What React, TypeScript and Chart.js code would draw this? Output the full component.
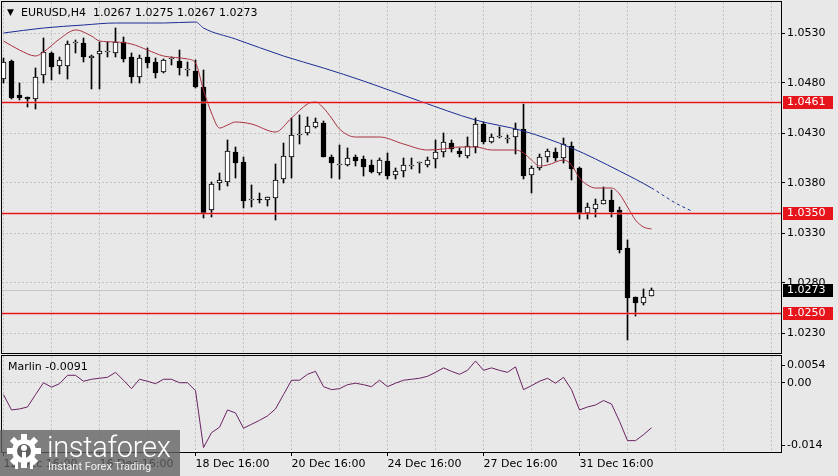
import React, { useEffect, useRef } from "react";
import { Chart, registerables } from "chart.js";

Chart.register(...registerables);

// ---------- DATA ----------
const opens = [
  1.0484, 1.0502, 1.0468, 1.0466, 1.0464, 1.0488, 1.0510, 1.0497, 1.0497, 1.0520,
  1.0520, 1.0505, 1.0509, 1.0511, 1.0510, 1.0521, 1.0506, 1.0486, 1.0506, 1.0501,
  1.0491, 1.0504, 1.0502, 1.0493, 1.0492, 1.0476, 1.0353, 1.0380, 1.0381, 1.0411,
  1.0401, 1.0363, 1.0364, 1.0363, 1.0365, 1.0384, 1.0406, 1.0428, 1.0430, 1.0436,
  1.0440, 1.0406, 1.0398, 1.0398, 1.0406, 1.0404, 1.0398, 1.0390, 1.0402, 1.0388,
  1.0392, 1.0397, 1.0400, 1.0398, 1.0404, 1.0411, 1.0420, 1.0412, 1.0407, 1.0416,
  1.0439, 1.0421, 1.0426, 1.0424, 1.0426, 1.0434, 1.0388, 1.0395, 1.0406, 1.0411,
  1.0405, 1.0417, 1.0395, 1.0350, 1.0354, 1.0359, 1.0363, 1.0353, 1.0315, 1.0266,
  1.0260, 1.0267,
];
const highs = [
  1.0505, 1.0503, 1.0480, 1.0466, 1.0495, 1.0525, 1.0511, 1.0506, 1.0522, 1.0523,
  1.0525, 1.0508, 1.0521, 1.0521, 1.0535, 1.0526, 1.0510, 1.0508, 1.0515, 1.0505,
  1.0504, 1.0506, 1.0513, 1.0501, 1.0503, 1.0493, 1.0381, 1.0390, 1.0423, 1.0416,
  1.0406, 1.0378, 1.0370, 1.0366, 1.0399, 1.0420, 1.0445, 1.0448, 1.0446, 1.0445,
  1.0442, 1.0408, 1.0418, 1.0415, 1.0408, 1.0407, 1.0403, 1.0405, 1.0410, 1.0395,
  1.0405, 1.0405, 1.0401, 1.0406, 1.0423, 1.0430, 1.0423, 1.0415, 1.0426, 1.0445,
  1.0441, 1.0429, 1.0436, 1.0428, 1.0440, 1.0459, 1.0397, 1.0409, 1.0414, 1.0415,
  1.0425, 1.0421, 1.0396, 1.0360, 1.0364, 1.0376, 1.0373, 1.0356, 1.0323, 1.0266,
  1.0274, 1.0275,
];
const lows = [
  1.0480, 1.0464, 1.0463, 1.0456, 1.0454, 1.0480, 1.0483, 1.0489, 1.0484, 1.0510,
  1.0501, 1.0474, 1.0474, 1.0506, 1.0506, 1.0501, 1.0480, 1.0480, 1.0495, 1.0485,
  1.0490, 1.0498, 1.0488, 1.0487, 1.0475, 1.0345, 1.0346, 1.0373, 1.0377, 1.0385,
  1.0355, 1.0356, 1.0360, 1.0357, 1.0343, 1.0380, 1.0385, 1.0419, 1.0428, 1.0435,
  1.0406, 1.0385, 1.0384, 1.0397, 1.0397, 1.0387, 1.0390, 1.0388, 1.0384, 1.0384,
  1.0386, 1.0394, 1.0390, 1.0396, 1.0395, 1.0406, 1.0411, 1.0406, 1.0405, 1.0410,
  1.0419, 1.0420, 1.0425, 1.0420, 1.0409, 1.0384, 1.0370, 1.0393, 1.0401, 1.0402,
  1.0400, 1.0383, 1.0344, 1.0344, 1.0346, 1.0359, 1.0346, 1.0310, 1.0223, 1.0247,
  1.0258, 1.0267,
];
const closes = [
  1.0501, 1.0465, 1.0465, 1.0464, 1.0486, 1.0511, 1.0496, 1.0503, 1.0519, 1.0520,
  1.0506, 1.0507, 1.0512, 1.0511, 1.0521, 1.0504, 1.0486, 1.0505, 1.0500, 1.0490,
  1.0503, 1.0504, 1.0495, 1.0493, 1.0476, 1.0350, 1.0379, 1.0383, 1.0412, 1.0400,
  1.0362, 1.0363, 1.0363, 1.0366, 1.0383, 1.0407, 1.0428, 1.0428, 1.0437, 1.0441,
  1.0406, 1.0400, 1.0398, 1.0405, 1.0402, 1.0396, 1.0391, 1.0403, 1.0387, 1.0392,
  1.0398, 1.0397, 1.0400, 1.0403, 1.0411, 1.0421, 1.0414, 1.0409, 1.0417, 1.0439,
  1.0421, 1.0426, 1.0426, 1.0424, 1.0434, 1.0387, 1.0395, 1.0406, 1.0412, 1.0405,
  1.0419, 1.0394, 1.0350, 1.0356, 1.0359, 1.0363, 1.0351, 1.0313, 1.0265, 1.0260,
  1.0266, 1.0273,
];

const redMaIdx = [
  0, 2, 4, 5, 7, 9, 11, 12, 14, 16, 18, 20, 23, 24, 25, 26, 27, 28, 29, 31, 34, 36, 38,
  39, 40, 41, 42, 44, 47, 50, 53, 55, 57, 59, 61, 64, 65, 66, 67, 68, 70, 71, 72, 73, 74,
  76, 77, 78, 79, 80, 81,
];
const redMaVal = [
  1.0522, 1.0513, 1.0507, 1.0511, 1.0524, 1.0533, 1.0527, 1.0522, 1.0521, 1.0519,
  1.0513, 1.0507, 1.0504, 1.05, 1.0473, 1.045, 1.0435, 1.0438, 1.0441, 1.0439,
  1.0431, 1.0445, 1.0459, 1.0461, 1.0455, 1.0445, 1.0434, 1.0426, 1.0426, 1.0419,
  1.0413, 1.0414, 1.0416, 1.0416, 1.0413, 1.0413, 1.041, 1.0403, 1.0397, 1.0398,
  1.0403, 1.0398, 1.0385, 1.0378, 1.0375, 1.0375, 1.0369, 1.0356, 1.0343, 1.0336,
  1.0334,
];

const blueMaIdx = [0, 5, 10, 14, 20, 24, 25, 29, 35, 40, 45, 52, 59, 65, 71, 77, 81, 84, 86];
const blueMaVal = [
  1.053, 1.0535, 1.0538, 1.054, 1.054, 1.0541, 1.0535, 1.0524, 1.0507, 1.0495,
  1.0482, 1.0462, 1.0443, 1.0432, 1.0415, 1.0392, 1.0375, 1.036, 1.0352,
];
const blueDashFrom = 81;

const marlin = [
  -0.0024, -0.0055, -0.0053, -0.0049, -0.0024, 0.0, -0.0009, -0.0002, 0.0015, 0.0015,
  0.0003, 0.0007, 0.0009, 0.0011, 0.0021, 0.0005, -0.0012, 0.0007, 0.0003, -0.0002,
  0.0007, 0.0007, 0.0, 0.0, -0.0016, -0.0131, -0.0101, -0.009, -0.0055, -0.0061,
  -0.0092, -0.0084, -0.0076, -0.0067, -0.0053, -0.0024, 0.0005, 0.0005, 0.0017, 0.0023,
  -0.0008, -0.0014, -0.0012, -0.0004, -0.0001, -0.0004, -0.0008, 0.0005, -0.0008, -0.0001,
  0.0005, 0.0007, 0.0009, 0.0013, 0.0021, 0.003, 0.0023, 0.0017, 0.0025, 0.0044,
  0.0025, 0.003, 0.0025, 0.0021, 0.0032, -0.0014, -0.0006, 0.0003, 0.0009, -0.0001,
  0.0011, -0.0014, -0.0055, -0.0049, -0.0045, -0.0036, -0.0043, -0.0078, -0.0117, -0.0117,
  -0.0105, -0.0091,
];

const levelPrices = [1.0461, 1.035, 1.025];
const lastPrice = 1.0273;
const priceTicks = [1.023, 1.028, 1.033, 1.038, 1.043, 1.048, 1.053];
const priceMin = 1.021;
const priceMax = 1.0561;

const dateLabels = [
  "12 Dec 16:00",
  "16 Dec 16:00",
  "18 Dec 16:00",
  "20 Dec 16:00",
  "24 Dec 16:00",
  "27 Dec 16:00",
  "31 Dec 16:00",
];
const gridIndices = [0, 6, 12, 18, 24, 30, 36, 42, 48, 54, 60, 66, 72, 78, 84, 90, 96];
const labelEvery = 12;
const xMin = -0.1875;
const xMax = 97.1875;

const marlinMin = -0.014;
const marlinMax = 0.0054;
const marlinTickValues = [0.00358, 0, -0.01259];
const marlinTickLabels = ["0.0054", "0.00", "-0.014"];

const titleSymbol = "EURUSD,H4";
const titleQuote = "1.0267 1.0275 1.0267 1.0273";
const marlinTitle = "Marlin -0.0091";

// ---------- STYLE ----------
const FONT = "DejaVu Sans";
const BG = "#e8e8e8";
const GRID = "#c2c2c2";
const RED_MA = "#a8303e";
const BLUE_MA = "#1c2c94";
const LEVEL = "#e21414";
const LEVEL_HALO = "rgba(240,120,130,0.45)";
const LABEL_RED = "#e6141b";
const MARLIN = "#6a2262";

const framePlugin = {
  id: "frame",
  afterDraw(chart: any) {
    const { ctx, chartArea } = chart;
    const x0 = Math.round(chartArea.left) - 0.5;
    const y0 = Math.round(chartArea.top) - 0.5;
    const x1 = Math.round(chartArea.right) + 0.5;
    const y1 = Math.round(chartArea.bottom) + 0.5;
    ctx.save();
    ctx.strokeStyle = "#000";
    ctx.lineWidth = 1;
    ctx.setLineDash([]);
    ctx.strokeRect(x0, y0, x1 - x0, y1 - y0);
    ctx.restore();
  },
};

const levelsPlugin = {
  id: "levels",
  beforeDatasetsDraw(chart: any) {
    const { ctx, chartArea, scales } = chart;
    const y = scales.y;
    ctx.save();
    ctx.setLineDash([]);
    ctx.lineWidth = 1;
    const bidY = Math.round(y.getPixelForValue(lastPrice)) + 0.5;
    ctx.strokeStyle = "#c6c6c6";
    ctx.beginPath();
    ctx.moveTo(chartArea.left, bidY);
    ctx.lineTo(chartArea.right, bidY);
    ctx.stroke();
    ctx.restore();
  },
  afterDatasetsDraw(chart: any) {
    const { ctx, chartArea, scales } = chart;
    const y = scales.y;
    ctx.save();
    ctx.setLineDash([]);
    levelPrices.forEach((p) => {
      const py = Math.round(y.getPixelForValue(p));
      ctx.fillStyle = LEVEL_HALO;
      ctx.fillRect(chartArea.left, py - 1, chartArea.right - chartArea.left, 3);
      ctx.fillStyle = LEVEL;
      ctx.fillRect(chartArea.left, py, chartArea.right - chartArea.left, 1);
    });
    ctx.restore();
  },
  afterDraw(chart: any) {
    const { ctx, chartArea, scales } = chart;
    const y = scales.y;
    const boxL = chartArea.right + 2;
    const boxW = 50;
    const drawBox = (p: number, fill: string) => {
      const py = Math.round(y.getPixelForValue(p));
      ctx.fillStyle = fill;
      ctx.fillRect(boxL, py - 6, boxW, 13);
      ctx.fillStyle = "#ffffff";
      ctx.font = `11px "${FONT}"`;
      ctx.textAlign = "left";
      ctx.textBaseline = "middle";
      ctx.fillText(p.toFixed(4), chartArea.right + 6, py + 0.5);
    };
    ctx.save();
    levelPrices.forEach((p) => drawBox(p, LABEL_RED));
    drawBox(lastPrice, "#000000");
    ctx.restore();
  },
};

function xScaleBase(showLabels: boolean) {
  return {
    type: "linear",
    min: xMin,
    max: xMax,
    offset: false,
    afterBuildTicks: (s: any) => {
      s.ticks = gridIndices.map((v) => ({ value: v }));
    },
    afterFit: (s: any) => {
      s.height = showLabels ? 24 : 0;
      s.paddingLeft = 0;
      s.paddingRight = 0;
    },
    grid: {
      display: true,
      offset: false,
      color: GRID,
      lineWidth: 1,
      drawOnChartArea: true,
      drawTicks: showLabels,
      tickLength: 4,
      tickColor: (c: any) =>
        c.tick && c.tick.value % labelEvery === 0 && c.tick.value / labelEvery < dateLabels.length
          ? "#000"
          : "rgba(0,0,0,0)",
    },
    border: { display: false, dash: [2, 2] },
    ticks: {
      display: showLabels,
      autoSkip: false,
      maxRotation: 0,
      minRotation: 0,
      align: "start",
      padding: 2,
      color: "#000",
      font: { family: FONT, size: 11 },
      callback: (v: number) => {
        const k = v / labelEvery;
        return Number.isInteger(k) && k < dateLabels.length ? dateLabels[k] : "";
      },
    },
  };
}

function yAfterFit(s: any) {
  s.width = 57;
  s.paddingTop = 0;
  s.paddingBottom = 0;
}

function MainChart() {
  const ref = useRef<HTMLCanvasElement>(null);
  useEffect(() => {
    const idx = opens.map((_, i) => i);
    const bodies = idx.map((i) => ({ x: i, y: [opens[i], closes[i]] }));
    const wicks = idx.map((i) => ({ x: i, y: [lows[i], highs[i]] }));
    const bodyColors = idx.map((i) => (closes[i] >= opens[i] ? "#ffffff" : "#000000"));
    const chart = new Chart(ref.current as HTMLCanvasElement, {
      type: "bar",
      data: {
        datasets: [
          {
            type: "line",
            data: redMaIdx.map((x, k) => ({ x, y: redMaVal[k] })),
            borderColor: RED_MA,
            borderWidth: 1,
            pointRadius: 0,
            cubicInterpolationMode: "monotone",
            order: 0,
          } as any,
          {
            type: "line",
            data: blueMaIdx.map((x, k) => ({ x, y: blueMaVal[k] })),
            borderColor: BLUE_MA,
            borderWidth: 1,
            pointRadius: 0,
            cubicInterpolationMode: "monotone",
            segment: {
              borderDash: (c: any) => (c.p0.parsed.x >= blueDashFrom ? [3, 3] : undefined),
            },
            order: 1,
          } as any,
          {
            type: "bar",
            data: bodies,
            backgroundColor: bodyColors,
            borderColor: "#000000",
            borderWidth: 1,
            borderSkipped: false,
            barThickness: 5,
            minBarLength: 1,
            grouped: false,
            order: 2,
          } as any,
          {
            type: "bar",
            data: wicks,
            backgroundColor: "#000000",
            borderWidth: 0,
            barThickness: 1,
            grouped: false,
            order: 3,
          } as any,
        ],
      },
      options: {
        responsive: false,
        animation: false,
        devicePixelRatio: 1,
        events: [],
        layout: { padding: { left: 2, top: 2, right: 0, bottom: 1 } },
        plugins: { legend: { display: false }, tooltip: { enabled: false }, title: { display: false } },
        scales: {
          x: xScaleBase(false) as any,
          y: {
            type: "linear",
            position: "right",
            min: priceMin,
            max: priceMax,
            afterBuildTicks: (s: any) => {
              s.ticks = priceTicks.map((v) => ({ value: v }));
            },
            afterFit: yAfterFit,
            grid: {
              color: GRID,
              lineWidth: 1,
              drawTicks: true,
              tickLength: 4,
              tickColor: "#000",
            },
            border: { display: false, dash: [2, 2] },
            ticks: {
              padding: 2,
              color: "#000",
              font: { family: FONT, size: 11 },
              callback: (v: number) => Number(v).toFixed(4),
            },
          } as any,
        },
      },
      plugins: [levelsPlugin, framePlugin],
    } as any);
    return () => chart.destroy();
  }, []);
  return (
    <canvas
      ref={ref}
      width={838}
      height={354}
      style={{ position: "absolute", left: 0, top: 0, width: 838, height: 354 }}
    />
  );
}

function MarlinChart() {
  const ref = useRef<HTMLCanvasElement>(null);
  useEffect(() => {
    const chart = new Chart(ref.current as HTMLCanvasElement, {
      type: "line",
      data: {
        datasets: [
          {
            data: marlin.map((v, i) => ({ x: i, y: v })),
            borderColor: MARLIN,
            borderWidth: 1,
            pointRadius: 0,
            tension: 0,
          },
        ],
      },
      options: {
        responsive: false,
        animation: false,
        devicePixelRatio: 1,
        events: [],
        layout: { padding: { left: 2, top: 2, right: 0, bottom: 0 } },
        plugins: { legend: { display: false }, tooltip: { enabled: false }, title: { display: false } },
        scales: {
          x: xScaleBase(true) as any,
          y: {
            type: "linear",
            position: "right",
            min: marlinMin,
            max: marlinMax,
            afterBuildTicks: (s: any) => {
              s.ticks = marlinTickValues.map((v) => ({ value: v }));
            },
            afterFit: yAfterFit,
            grid: {
              color: (c: any) => (c.tick && c.tick.value === 0 ? GRID : "rgba(0,0,0,0)"),
              lineWidth: 1,
              drawTicks: true,
              tickLength: 4,
              tickColor: "#000",
            },
            border: { display: false, dash: [2, 2] },
            ticks: {
              padding: 2,
              color: "#000",
              font: { family: FONT, size: 11 },
              callback: (v: number) => {
                const k = marlinTickValues.indexOf(v);
                return k >= 0 ? marlinTickLabels[k] : "";
              },
            },
          } as any,
        },
      },
      plugins: [framePlugin],
    } as any);
    return () => chart.destroy();
  }, []);
  return (
    <canvas
      ref={ref}
      width={838}
      height={122}
      style={{ position: "absolute", left: 0, top: 354, width: 838, height: 122 }}
    />
  );
}

function Logo() {
  const teeth = [0, 45, 90, 135, 180, 225, 270, 315];
  return (
    <div
      style={{
        position: "absolute",
        left: 0,
        top: 430,
        width: 180,
        height: 46,
        background: "rgba(96,96,96,0.78)",
      }}
    >
      <svg width="44" height="44" style={{ position: "absolute", left: 3, top: 2 }}>
        <g transform="translate(21,19)" fill="#ffffff">
          {teeth.map((a) => (
            <rect key={a} x={-3} y={-17} width={6} height={7} transform={`rotate(${a})`} />
          ))}
          <circle r={12} fill="#ffffff" />
          <circle r={7} fill="rgba(96,96,96,1)" />
          <circle cx={0} cy={-3} r={3} fill="#ffffff" />
          <rect x={-2} y={1} width={4} height={14} fill="#ffffff" />
          <rect x={-9} y={6} width={3} height={12} fill="#ffffff" />
          <rect x={6} y={6} width={3} height={12} fill="#ffffff" />
        </g>
      </svg>
      <div
        style={{
          position: "absolute",
          left: 47,
          top: 0,
          fontFamily: "Roboto",
          fontWeight: 300,
          fontSize: 29,
          lineHeight: "34px",
          color: "#ffffff",
          letterSpacing: -0.3,
          whiteSpace: "pre",
        }}
      >
        instaforex
      </div>
      <div
        style={{
          position: "absolute",
          left: 48,
          top: 30,
          fontFamily: "Roboto",
          fontSize: 11,
          lineHeight: "13px",
          color: "#f0f0f0",
          whiteSpace: "pre",
        }}
      >
        Instant Forex Trading
      </div>
    </div>
  );
}

export default function App() {
  const textBase: React.CSSProperties = {
    position: "absolute",
    fontFamily: FONT,
    fontSize: 11,
    lineHeight: "13px",
    color: "#000",
    whiteSpace: "pre",
  };
  return (
    <div
      style={{
        position: "absolute",
        left: 0,
        top: 0,
        width: 838,
        height: 476,
        background: BG,
        overflow: "hidden",
      }}
    >
      <MainChart />
      <MarlinChart />
      <div style={{ ...textBase, left: 7, top: 6, fontSize: 9 }}>▼</div>
      <div style={{ ...textBase, left: 21, top: 6 }}>{titleSymbol}</div>
      <div style={{ ...textBase, left: 93, top: 6 }}>{titleQuote}</div>
      <div style={{ ...textBase, left: 8, top: 360 }}>{marlinTitle}</div>
      <Logo />
    </div>
  );
}
